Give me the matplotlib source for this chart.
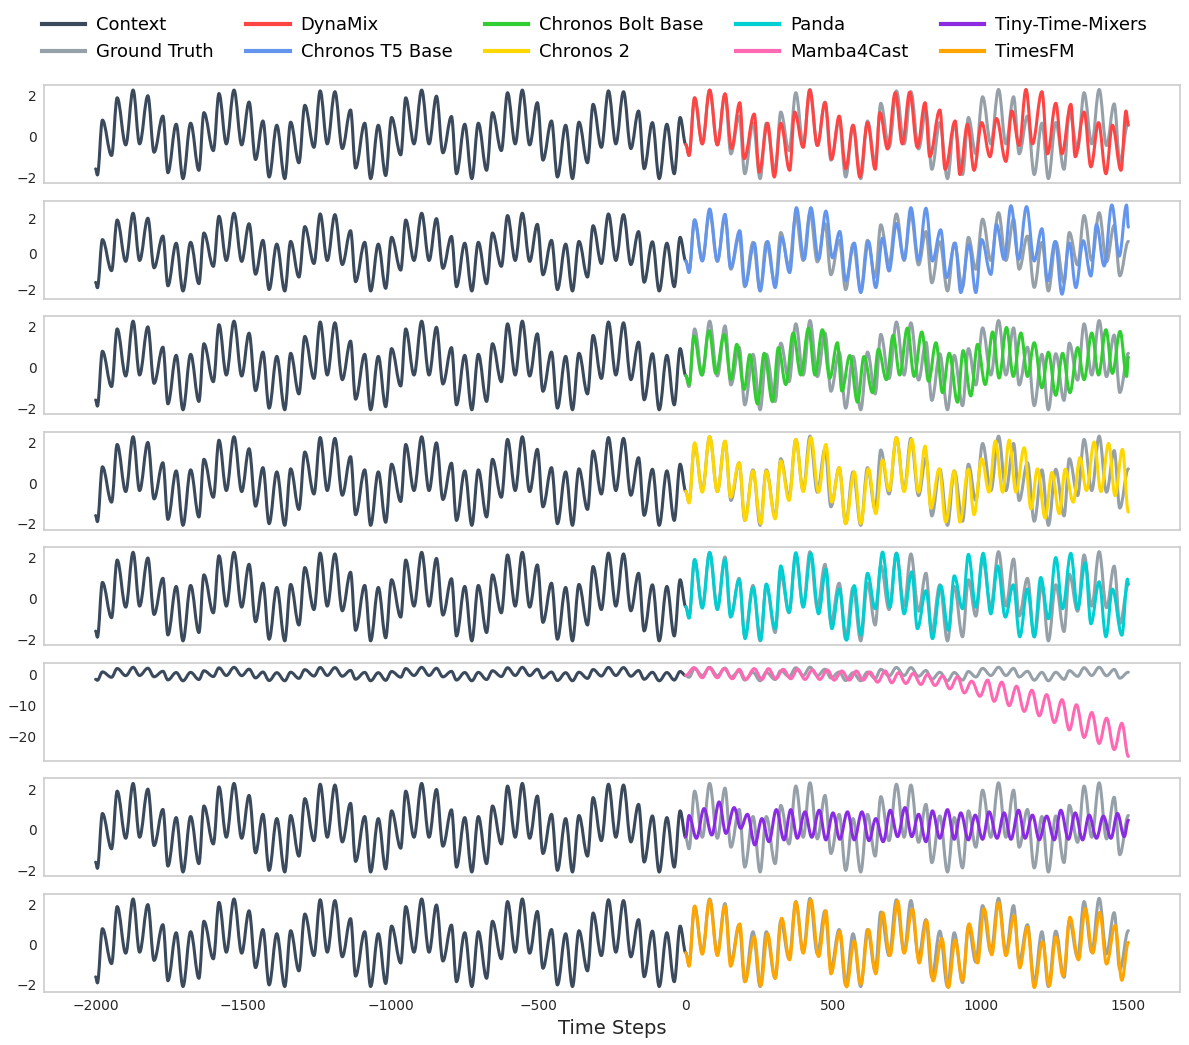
import numpy as np
import matplotlib
matplotlib.use("Agg")
import matplotlib.pyplot as plt
from matplotlib.path import Path
from matplotlib.patches import PathPatch
from matplotlib.lines import Line2D

# ---------------- data: (time step, value) at turning points ----------------
context = [(-2000, -1.6), (-1994, -1.9), (-1977, 0.8), (-1946, -0.94), (-1927, 1.9), (-1898, -0.42),
           (-1873, 2.28), (-1851, -0.37), (-1823, 2.0), (-1802, -0.78), (-1772, 1.0), (-1755, -1.79),
           (-1727, 0.6), (-1704, -2.08), (-1678, 0.65), (-1650, -1.67), (-1633, 1.17), (-1601, -0.7),
           (-1582, 2.11), (-1557, -0.37), (-1531, 2.28), (-1505, -0.42), (-1480, 1.69), (-1458, -1.14),
           (-1433, 0.76), (-1412, -2.0), (-1386, 0.55), (-1359, -2.08), (-1339, 0.7), (-1311, -1.3),
           (-1291, 1.53), (-1260, -0.54), (-1239, 2.24), (-1215, -0.37), (-1189, 2.2), (-1164, -0.6),
           (-1136, 1.3), (-1119, -1.56), (-1088, 0.65), (-1068, -2.08), (-1042, 0.55), (-1017, -1.93),
           (-997, 0.93), (-966, -0.91), (-949, 1.9), (-921, -0.37), (-895, 2.28), (-870, -0.37),
           (-845, 1.98), (-823, -0.81), (-794, 0.98), (-777, -1.84), (-749, 0.6), (-725, -2.08),
           (-703, 0.65), (-675, -1.67), (-655, 1.17), (-625, -0.7), (-604, 2.15), (-578, -0.37),
           (-554, 2.28), (-529, -0.42), (-503, 1.66), (-484, -1.17), (-455, 0.76), (-435, -2.0),
           (-407, 0.55), (-384, -2.08), (-362, 0.7), (-333, -1.3), (-314, 1.58), (-286, -0.54),
           (-262, 2.24), (-237, -0.37), (-211, 2.2), (-186, -0.6), (-160, 1.25), (-141, -1.59),
           (-113, 0.68), (-90, -2.08), (-64, 0.6), (-39, -1.84), (-19, 0.93), (0, -0.4)]

ground_truth = [(0, -0.4), (11, -0.94), (30, 1.9), (56, -0.37), (81, 2.28), (107, -0.42), (133, 2.05),
                (153, -0.86), (181, 1.0), (200, -1.84), (228, 0.65), (252, -2.08), (273, 0.65),
                (303, -1.67), (322, 1.2), (350, -0.7), (373, 2.15), (398, -0.37), (421, 2.31),
                (446, -0.45), (472, 1.69), (492, -1.17), (520, 0.76), (542, -2.0), (567, 0.55),
                (593, -2.08), (616, 0.76), (642, -1.3), (661, 1.63), (689, -0.54), (714, 2.24),
                (740, -0.37), (763, 2.2), (789, -0.62), (814, 1.25), (834, -1.62), (861, 0.68),
                (887, -2.08), (910, 0.6), (938, -1.88), (958, 0.93), (983, -0.86), (1006, 1.95),
                (1034, -0.37), (1060, 2.31), (1085, -0.37), (1111, 1.95), (1130, -0.86), (1158, 1.0),
                (1181, -1.88), (1207, 0.65), (1229, -2.08), (1254, 0.68), (1282, -1.62), (1300, 1.2),
                (1328, -0.62), (1350, 2.15), (1376, -0.37), (1401, 2.31), (1426, -0.45), (1452, 1.6),
                (1471, -1.23), (1500, 0.7)]

dynamix = [(0, -0.4), (11, -0.94), (30, 1.9), (56, -0.37), (81, 2.28), (107, -0.42), (133, 2.1),
           (155, -0.6), (183, 1.66), (198, -1.1), (232, 1.1), (249, -1.76), (277, 0.65), (300, -2.0),
           (322, 0.65), (352, -1.67), (369, 1.2), (398, -0.54), (420, 2.28), (446, -0.45), (472, 1.66),
           (494, -1.12), (520, 1.0), (542, -1.59), (567, 0.55), (590, -2.0), (616, 0.68), (642, -1.62),
           (658, 1.17), (684, -0.62), (710, 2.15), (734, -0.37), (759, 2.18), (785, -0.54), (811, 1.66),
           (827, -1.0), (861, 1.3), (879, -1.62), (913, 0.76), (929, -1.88), (955, 0.6), (977, -1.67),
           (1003, 0.68), (1031, -1.0), (1053, 0.88), (1085, -1.23), (1105, 1.25), (1130, -0.45),
           (1153, 2.31), (1175, -0.37), (1207, 2.2), (1226, -0.86), (1254, 1.63), (1275, -0.86),
           (1305, 1.58), (1320, -1.0), (1350, 1.2), (1373, -1.5), (1399, 0.68), (1424, -1.84),
           (1446, 0.55), (1475, -1.67), (1492, 1.25), (1500, 0.55)]

chronos_t5 = [(0, -0.4), (11, -1.05), (30, 1.91), (56, -0.4), (81, 2.52), (107, -0.4), (133, 2.22),
              (152, -0.78), (183, 1.3), (201, -1.8), (232, 0.61), (252, -2.07), (277, 0.7), (303, -1.89),
              (325, 0.93), (352, -1.05), (375, 2.59), (401, -0.31), (424, 2.59), (450, -0.31), (475, 2.4),
              (497, -0.22), (522, 1.26), (542, -1.52), (571, 0.61), (593, -2.17), (619, 0.7), (644, -1.89),
              (667, 0.89), (689, -0.96), (714, 1.7), (740, -0.31), (763, 2.59), (789, -0.37), (814, 2.56),
              (836, -0.4), (864, 1.35), (884, -1.33), (913, 0.61), (932, -2.17), (960, 0.52), (983, -2.17),
              (1003, 0.8), (1034, -1.15), (1053, 1.65), (1079, -0.31), (1102, 2.7), (1128, -0.31),
              (1155, 2.65), (1181, -0.4), (1207, 1.41), (1226, -1.52), (1252, 0.7), (1275, -2.26),
              (1300, 0.61), (1322, -1.89), (1347, 0.74), (1373, -1.24), (1392, 1.65), (1418, -0.68),
              (1444, 2.74), (1469, -0.13), (1494, 2.74), (1500, 1.5)]

chronos_bolt = [(0, -0.4), (11, -0.84), (28, 1.54), (54, -0.37), (79, 1.81), (102, -0.29), (130, 1.62),
                (153, -0.6), (173, 1.14), (198, -1.08), (217, 0.63), (243, -1.79), (266, 0.7), (294, -1.68),
                (314, 0.98), (339, -0.84), (364, 1.7), (390, -0.37), (416, 1.94), (438, -0.37), (463, 1.86),
                (488, -0.52), (514, 1.22), (529, -1.16), (556, 0.59), (582, -1.71), (604, 0.54), (633, -1.24),
                (653, 0.9), (680, -0.6), (703, 1.59), (725, -0.37), (751, 1.94), (774, -0.44), (800, 1.75),
                (823, -0.68), (848, 1.22), (870, -1.24), (893, 0.7), (921, -1.71), (940, 0.83), (966, -1.4),
                (989, 1.14), (1015, -0.84), (1040, 1.75), (1062, -0.52), (1087, 1.97), (1110, -0.44),
                (1136, 1.7), (1158, -0.44), (1181, 1.22), (1207, -1.0), (1229, 0.75), (1254, -1.37),
                (1277, 0.7), (1302, -1.24), (1328, 0.98), (1350, -0.6), (1376, 1.7), (1399, -0.37),
                (1424, 1.86), (1446, -0.29), (1472, 1.78), (1494, -0.44), (1500, 0.51)]

chronos_2 = [(0, -0.4), (11, -0.98), (30, 1.98), (56, -0.45), (81, 2.28), (107, -0.42), (133, 2.07),
             (152, -0.7), (181, 1.0), (201, -1.84), (228, 0.6), (254, -2.0), (273, 0.6), (303, -1.76),
             (322, 1.09), (350, -0.86), (373, 2.15), (398, -0.42), (424, 2.24), (450, -0.45), (475, 1.9),
             (495, -0.94), (520, 0.76), (542, -2.0), (571, 0.55), (593, -2.0), (619, 0.7), (644, -1.51),
             (667, 1.13), (689, -0.37), (714, 2.24), (740, -0.42), (766, 2.15), (789, -0.45), (811, 1.82),
             (831, -1.24), (859, 0.7), (881, -1.92), (910, 0.6), (929, -1.92), (958, 0.68), (977, -1.56),
             (1003, 1.2), (1028, -0.45), (1049, 2.07), (1074, -0.45), (1096, 2.11), (1119, -0.45),
             (1147, 1.74), (1170, -1.27), (1192, 0.7), (1218, -1.72), (1241, 0.52), (1266, -1.51),
             (1286, 0.68), (1313, -0.94), (1336, 1.25), (1358, -0.37), (1384, 2.02), (1407, -0.42),
             (1433, 1.95), (1455, -0.62), (1480, 1.66), (1500, -1.43)]

panda = [(0, -0.4), (11, -0.96), (30, 1.93), (56, -0.47), (81, 2.26), (107, -0.54), (133, 1.93),
         (152, -0.91), (181, 0.93), (201, -1.97), (228, 0.55), (254, -2.05), (273, 0.72), (303, -1.48),
         (322, 1.61), (350, -0.67), (373, 2.26), (398, -0.42), (424, 2.23), (450, -0.75), (475, 1.45),
         (495, -1.48), (520, 0.47), (545, -2.05), (571, 0.64), (593, -1.8), (616, 1.25), (642, -0.5),
         (667, 2.29), (692, -0.42), (714, 2.23), (740, -0.75), (766, 1.32), (785, -1.48), (814, 0.39),
         (836, -1.97), (864, 0.64), (890, -1.56), (910, 1.12), (938, -0.5), (958, 2.18), (983, -0.42),
         (1008, 2.23), (1034, -0.75), (1057, 1.61), (1083, -0.91), (1110, 0.68), (1132, -1.88),
         (1158, 0.47), (1181, -1.88), (1203, 1.04), (1229, -0.99), (1254, 2.02), (1277, -0.5),
         (1305, 2.23), (1328, -0.5), (1354, 1.77), (1373, -1.24), (1401, 0.83), (1424, -1.88),
         (1446, 0.47), (1478, -1.8), (1497, 0.96), (1500, 0.72)]

mamba4cast = [(0, -0.33), (28, 2.19), (56, -1.09), (79, 2.19), (107, -1.09), (130, 1.86), (158, -1.42),
              (181, 1.64), (203, -1.64), (232, 1.86), (258, -1.64), (280, 1.86), (305, -1.42), (330, 1.64),
              (356, -1.42), (379, 1.64), (404, -1.64), (429, 1.42), (454, -1.64), (480, 1.42), (503, -1.86),
              (529, 1.09), (554, -1.86), (578, 1.09), (601, -1.86), (624, 0.77), (650, -2.51), (676, 1.09),
              (698, -2.73), (721, 0.55), (746, -2.95), (771, 0.33), (797, -3.28), (819, 0.0), (845, -3.61),
              (870, -0.55), (895, -4.7), (921, -0.77), (944, -6.01), (969, -2.19), (997, -7.1),
              (1023, -1.86), (1045, -8.74), (1071, -2.51), (1096, -10.17), (1121, -3.83), (1147, -12.0),
              (1173, -5.14), (1198, -13.45), (1223, -6.56), (1249, -15.63), (1275, -8.2), (1300, -18.03),
              (1324, -9.84), (1350, -20.44), (1376, -12.35), (1401, -22.4), (1426, -14.2), (1452, -24.4),
              (1478, -15.85), (1500, -26.6)]

tiny_time_mixers = [(0, -0.35), (11, 0.7), (36, -0.42), (62, 1.04), (88, -0.26), (113, 1.37), (136, -0.18),
                    (164, 1.09), (186, 0.07), (209, 0.76), (234, -0.75), (258, 0.55), (282, -0.59),
                    (307, 0.99), (333, -0.5), (356, 0.99), (378, -0.42), (404, 0.88), (427, -0.37),
                    (452, 0.96), (475, -0.5), (499, 0.83), (522, -0.47), (548, 0.88), (571, -0.5),
                    (597, 0.88), (621, -0.54), (644, 0.55), (669, -0.59), (693, 0.96), (718, -0.34),
                    (743, 1.09), (766, -0.34), (789, 0.76), (814, -0.59), (836, 0.93), (861, -0.42),
                    (887, 0.99), (910, -0.47), (932, 0.83), (958, -0.5), (981, 0.72), (1006, -0.47),
                    (1028, 0.88), (1055, -0.42), (1079, 0.83), (1102, -0.47), (1128, 0.96), (1150, -0.42),
                    (1175, 0.72), (1198, -0.5), (1223, 0.67), (1249, -0.5), (1271, 0.96), (1297, -0.47),
                    (1320, 0.83), (1345, -0.5), (1367, 0.72), (1392, -0.42), (1415, 0.67), (1441, -0.42),
                    (1463, 0.8), (1486, -0.34), (1500, 0.47)]

timesfm = [(0, -0.4), (11, -1.07), (30, 1.93), (56, -0.47), (81, 2.23), (107, -0.54), (133, 1.93),
           (152, -1.07), (183, 1.04), (201, -1.84), (232, 0.39), (254, -2.05), (277, 0.55), (303, -1.67),
           (325, 1.32), (352, -0.75), (373, 2.13), (398, -0.42), (424, 2.23), (450, -0.59), (475, 1.69),
           (492, -1.45), (522, 0.67), (545, -2.1), (571, 0.18), (593, -1.97), (619, 0.76), (644, -1.45),
           (667, 1.61), (692, -0.54), (718, 2.18), (740, -0.42), (768, 1.77), (791, -0.91), (816, 1.2),
           (838, -1.8), (868, 0.31), (890, -2.13), (913, 0.23), (938, -1.8), (960, 1.04), (989, -0.91),
           (1011, 1.8), (1037, -0.5), (1060, 2.1), (1085, -0.54), (1113, 1.45), (1132, -1.15),
           (1158, 0.88), (1181, -2.13), (1209, 0.15), (1232, -2.05), (1254, 0.39), (1279, -1.56),
           (1302, 1.37), (1331, -0.75), (1354, 1.8), (1379, -0.42), (1403, 1.61), (1426, -0.96),
           (1455, 0.96), (1478, -1.77), (1500, 0.12)]

model_names = ["DynaMix", "Chronos T5 Base", "Chronos Bolt Base", "Chronos 2", "Panda",
               "Mamba4Cast", "Tiny-Time-Mixers", "TimesFM"]
model_series = [dynamix, chronos_t5, chronos_bolt, chronos_2, panda, mamba4cast, tiny_time_mixers, timesfm]
model_colors = ["#FF4444", "#6495ED", "#32CD32", "#FFD700", "#00CED1", "#FF69B4", "#8A2BE2", "#FFA500"]
xticks = [-2000, -1500, -1000, -500, 0, 500, 1000, 1500]
yticks_normal = [-2, 0, 2]
yticks_mamba = [-20, -10, 0]

CONTEXT_COLOR = "#3a4a5c"
GT_COLOR = "#95a0a8"
LW = 2.2


def smooth_trace(ax, pts, color, z):
    """Draw the turning points as one smooth path (cubic Bezier segments with
    flat tangents at each turning point), rendered by matplotlib in data coordinates."""
    p = np.asarray(pts, dtype=float)
    verts = [tuple(p[0])]
    codes = [Path.MOVETO]
    k = 0.3642
    for (t0, v0), (t1, v1) in zip(p[:-1], p[1:]):
        dt = t1 - t0
        verts += [(t0 + k * dt, v0), (t1 - k * dt, v1), (t1, v1)]
        codes += [Path.CURVE4] * 3
    patch = PathPatch(Path(verts, codes), facecolor="none", edgecolor=color, lw=LW,
                      capstyle="round", joinstyle="round", zorder=z)
    ax.add_patch(patch)


# ---------------- figure ----------------
W, H = 1189, 1045
fig = plt.figure(figsize=(W / 100, H / 100), dpi=100)
left, right = 44 / W, 1180 / W
top, bottom = 1 - 85 / H, 1 - 992 / H
gs = fig.add_gridspec(8, 1, left=left, right=right, top=top, bottom=bottom, hspace=0.178)

axes = []
for i, (name, series, color) in enumerate(zip(model_names, model_series, model_colors)):
    ax = fig.add_subplot(gs[i, 0])
    axes.append(ax)
    smooth_trace(ax, context, CONTEXT_COLOR, 2)
    smooth_trace(ax, ground_truth, GT_COLOR, 2.1)
    smooth_trace(ax, series, color, 2.2)
    ax.autoscale_view()
    ax.set_xlim(-2175, 1675)
    ax.set_xticks(xticks)
    ax.set_yticks(yticks_mamba if name == "Mamba4Cast" else yticks_normal)
    if i < 7:
        ax.tick_params(axis="x", labelbottom=False)
    ax.tick_params(axis="both", length=0, labelsize=10, colors="#262626", pad=5)
    for s in ax.spines.values():
        s.set_color("#cccccc")
        s.set_linewidth(1.2)
    ax.set_facecolor("white")
    ax.grid(False)

axes[-1].set_xlabel("Time Steps", fontsize=14, color="#262626")

order = ["Context", "Ground Truth"] + model_names
order_colors = [CONTEXT_COLOR, GT_COLOR] + model_colors
leg_handles = [Line2D([], [], color=c, lw=3) for c in order_colors]
fig.legend(leg_handles, order, loc="upper center", ncol=5, frameon=False, fontsize=13,
           bbox_to_anchor=(0.5, 1.0), columnspacing=1.8, handlelength=2.4, handletextpad=0.6,
           borderaxespad=0.5)

fig.savefig("out.png", dpi=100, facecolor="white")
